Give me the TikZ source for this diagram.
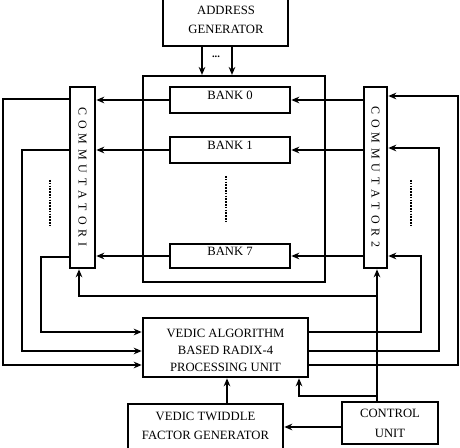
\documentclass[tikz,border=0pt]{standalone}
\usepackage{fontspec}
\setmainfont{Liberation Serif}
\usetikzlibrary{fit,arrows.meta}
\newcommand\lsp{\hspace{3.6pt}}
\begin{document}
\begin{tikzpicture}[x=0.75pt,y=-0.75pt,
 box/.style={draw, line width=2pt, inner sep=0pt, align=center, font=\fontsize{9.5}{12.75}\selectfont},
 txt/.style={inner sep=0pt, align=center, font=\fontsize{9.5}{14.25}\selectfont},
 arr/.style={line width=1.1pt, -{Stealth[length=6pt,width=5pt]}},
 dotsv/.style={line width=1.6pt, dash pattern=on 1.2pt off 0.9pt}]
\useasboundingbox (0,0) rectangle (460,448);
% boxes
\node[box, fit={(163,-10) (288,46)}] (ag) {};
\node[txt] (agt) at (226,20) {ADDRESS\\GENERATOR};
\node[box, line width=1.6pt, fit={(143,76) (325,282)}] (mem) {};
\node[box, fit={(170,87) (290,113)}] (b0) {BANK 0};
\node[box, fit={(170,137) (290,163)}] (b1) {BANK 1};
\node[box, fit={(170,244) (290,268)}] (b7) {BANK 7};
\node[box, fit={(70,87) (95,268)}] (c1) {};
\node[box, fit={(364,87) (387,268)}] (c2) {};
\node[txt, rotate=-90, font=\fontsize{9}{10}\selectfont] (c1t) at (82.5,177) {C\lsp O\lsp M\lsp M\lsp U\lsp T\lsp A\lsp T\lsp O\lsp R\lsp I};
\node[txt, rotate=-90, font=\fontsize{9}{10}\selectfont] (c2t) at (375.5,177) {C\lsp O\lsp M\lsp M\lsp U\lsp T\lsp A\lsp T\lsp O\lsp R\lsp 2};
\node[box, fit={(143,318) (308,377)}] (pu) {};
\node[txt, font=\fontsize{9.5}{12.75}\selectfont] (put) at (225.5,350) {VEDIC ALGORITHM\\BASED RADIX-4\\PROCESSING UNIT};
\node[box, fit={(128,404) (283,455)}] (tw) {};
\node[txt, font=\fontsize{9.5}{14.25}\selectfont] (twt) at (205.5,425.5) {VEDIC TWIDDLE\\FACTOR GENERATOR};
\node[box, fit={(342,402) (438,444)}] (cu) {};
\node[txt, font=\fontsize{9.5}{15}\selectfont] (cut) at (390,423) {CONTROL\\UNIT};
% address arrows
\draw[arr] (ag.south -| 202,0) -- (mem.north -| 202,0);
\draw[arr] (ag.south -| 232,0) -- (mem.north -| 232,0);
\node[inner sep=0pt, font=\fontsize{8}{8}\selectfont\bfseries] (agd) at (216,57) {...};
% banks to commutator 1
\draw[arr] (b0.west) -- (b0.west -| c1.east);
\draw[arr] (b1.west) -- (b1.west -| c1.east);
\draw[arr] (b7.west) -- (b7.west -| c1.east);
% commutator 2 to banks
\draw[arr] (c2.west |- b0.east) -- (b0.east);
\draw[arr] (c2.west |- b1.east) -- (b1.east);
\draw[arr] (c2.west |- b7.east) -- (b7.east);
% commutator 1 to PU
\draw[arr] (c1.west |- 0,99) -- (3,99) -- (3,365) -- (pu.west |- 0,365);
\draw[arr] (c1.west |- 0,150) -- (22,150) -- (22,351) -- (pu.west |- 0,351);
\draw[arr] (c1.west |- 0,257) -- (41,257) -- (41,332) -- (pu.west |- 0,332);
% PU to commutator 2
\draw[arr] (pu.east |- 0,365) -- (458,365) -- (458,96) -- (c2.east |- 0,96);
\draw[arr] (pu.east |- 0,351) -- (439,351) -- (439,148) -- (c2.east |- 0,148);
\draw[arr] (pu.east |- 0,332) -- (421,332) -- (421,256) -- (c2.east |- 0,256);
% control unit
\draw[arr] (cu.north -| 377,0) -- (c2.south -| 377,0);
\draw[arr] (377,296) -- (79,296) -- (c1.south -| 79,0);
\draw[arr] (377,396) -- (299,396) -- (pu.south -| 299,0);
\draw[arr] (cu.west |- 0,427) -- (tw.east |- 0,427);
\draw[arr] (tw.north -| 227,0) -- (pu.south -| 227,0);
% dots
\draw[dotsv] (50,180) -- (50,227);
\draw[dotsv] (411,180) -- (411,227);
\draw[dotsv] (226,176) -- (226,223);
\end{tikzpicture}
\end{document}
